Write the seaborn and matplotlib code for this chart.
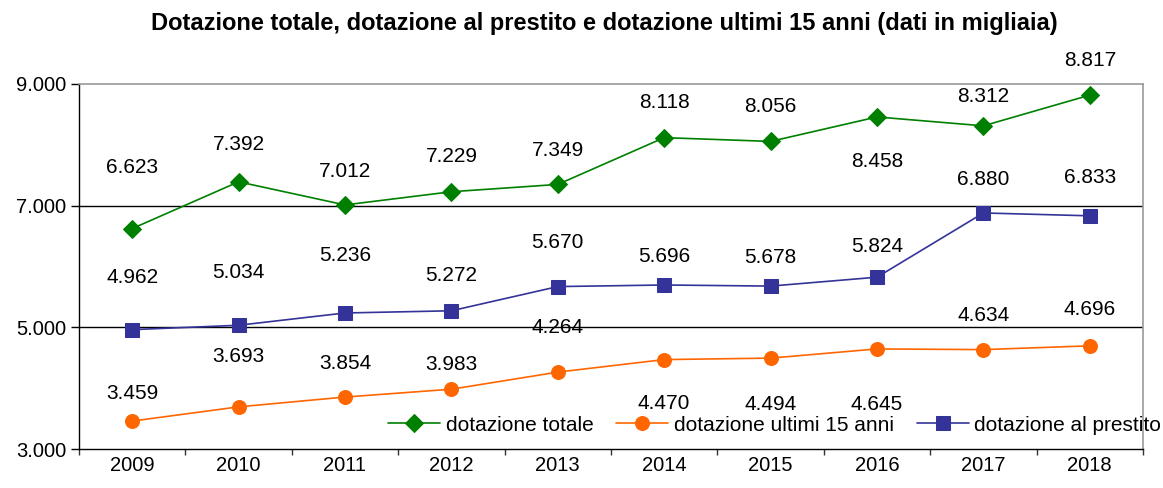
import matplotlib
matplotlib.use("Agg")
import matplotlib.pyplot as plt
import seaborn as sns
import pandas as pd
import numpy as np

years = ["2009", "2010", "2011", "2012", "2013", "2014", "2015", "2016", "2017", "2018"]
totale = [6623, 7392, 7012, 7229, 7349, 8118, 8056, 8458, 8312, 8817]
prestito = [4962, 5034, 5236, 5272, 5670, 5696, 5678, 5824, 6880, 6833]
ultimi15 = [3459, 3693, 3854, 3983, 4264, 4470, 4494, 4645, 4634, 4696]

# label vertical offsets (pixels) as placed in the original
off_totale = [61, 37, 33, 35, 34, 35, 35, -45, 29, 35]
off_prestito = [52, 53, 57, 35, 44, 28, 29, 31, 33, 38]
off_ultimi = [28, 50, 34, 25, 45, -44, -46, -56, 34, 36]

sns.set_theme(style="white")
plt.rcParams["font.family"] = ["Liberation Sans", "DejaVu Sans"]
plt.rcParams["text.color"] = "black"
plt.rcParams["xtick.color"] = "black"
plt.rcParams["ytick.color"] = "black"
plt.rcParams["xtick.labelcolor"] = "black"
plt.rcParams["ytick.labelcolor"] = "black"

fig = plt.figure(figsize=(11.63, 4.88), dpi=100)
ax = fig.add_axes([0.0679, 0.0799, 0.9828 - 0.0679, 0.8279 - 0.0799])

x = np.arange(len(years))
df = pd.DataFrame({"x": x, "totale": totale, "prestito": prestito, "ultimi": ultimi15})

ax.set_ylim(3000, 9000)
ax.set_xlim(-0.5, len(years) - 0.5)
for yv in [5000, 7000]:
    ax.axhline(yv, color="black", lw=1, zorder=1)

sns.lineplot(data=df, x="x", y="totale", ax=ax, color="#008000", marker="D",
             markersize=9, markeredgecolor="#008000", lw=1.2,
             label="dotazione totale", zorder=3)
sns.lineplot(data=df, x="x", y="ultimi", ax=ax, color="#FF6600", marker="o",
             markersize=10, markeredgecolor="#FF6600", lw=1.2,
             label="dotazione ultimi 15 anni", zorder=3)
sns.lineplot(data=df, x="x", y="prestito", ax=ax, color="#333399", marker="s",
             markersize=10, markeredgecolor="#333399", lw=1.2,
             label="dotazione al prestito", zorder=3)

def fmt(v):
    return f"{v:,}".replace(",", ".")

for vals, offs in [(totale, off_totale), (prestito, off_prestito), (ultimi15, off_ultimi)]:
    for xi, v, o in zip(x, vals, offs):
        ax.annotate(fmt(v), (xi, v), xytext=(0, o), textcoords="offset pixels",
                    ha="center", va="center", fontsize=15, color="black", zorder=4)

ax.set_yticks([3000, 5000, 7000, 9000])
ax.set_yticklabels([fmt(v) for v in [3000, 5000, 7000, 9000]], fontsize=14.5)
ax.set_xticks(x)
ax.set_xticklabels(years, fontsize=14.5)
ax.set_xticks(np.arange(-0.5, len(years), 1), minor=True)
ax.tick_params(axis="x", which="major", length=0, pad=5)
ax.tick_params(axis="x", which="minor", length=4.5, width=1, color="#333333", direction="out", bottom=True)
ax.tick_params(axis="y", which="major", length=6, width=1, color="black", direction="out", left=True, pad=3)
ax.set_xlabel("")
ax.set_ylabel("")

for s in ["left", "bottom"]:
    ax.spines[s].set_color("black")
    ax.spines[s].set_linewidth(1)
for s in ["top", "right"]:
    ax.spines[s].set_color("#999999")
    ax.spines[s].set_linewidth(1.2)

leg = ax.legend(loc="center right", bbox_to_anchor=(0.998, 0.129), bbox_transform=fig.transFigure,
                ncol=3, frameon=False, fontsize=15, handlelength=2.5, columnspacing=1.1,
                handletextpad=0.25, borderaxespad=0, borderpad=0)
for t in leg.get_texts():
    t.set_color("black")

fig.text(0.52, 0.951, "Dotazione totale, dotazione al prestito e dotazione ultimi 15 anni (dati in migliaia)",
         ha="center", va="center", fontsize=17, fontweight="bold", color="black")

fig.savefig("out.png", dpi=100)
